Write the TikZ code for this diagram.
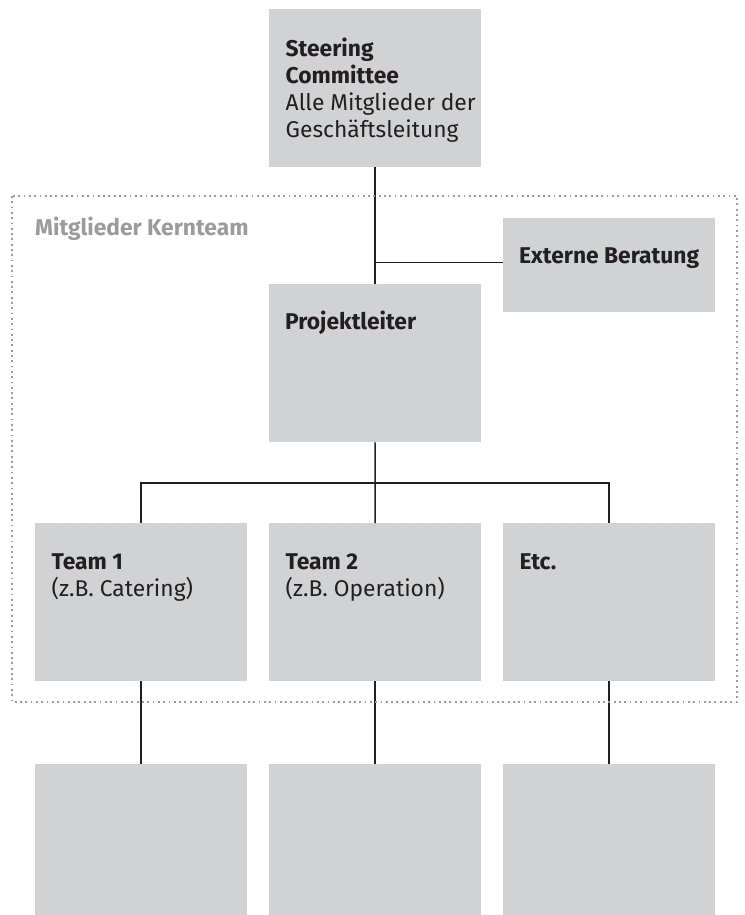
\documentclass[tikz,border=0pt]{standalone}
\usepackage{fontspec}
\setmainfont{Fira Sans}
\definecolor{boxgray}{HTML}{D1D2D4}
\definecolor{ink}{HTML}{231F20}
\definecolor{dotgray}{HTML}{9A9B9D}
\begin{document}
\begin{tikzpicture}[x=1pt,y=-1pt,
  box/.style={fill=boxgray, draw=none, inner sep=0pt, minimum width=212pt, anchor=north west},
  tallbox/.style={box, minimum height=158pt},
  lbl/.style={anchor=base west, inner sep=0pt, text=ink, font=\fontsize{22.8}{27}\selectfont},
  conn/.style={draw=ink, line width=1.5pt},
  frame/.style={draw=dotgray, line width=1.8pt, dash pattern=on 1.8pt off 3.5pt},
  grouplbl/.style={anchor=base west, inner sep=0pt, text=dotgray, font=\fontsize{22.8}{27}\selectfont\bfseries}]
\useasboundingbox (0,0) rectangle (744,915);
% boxes
\node[tallbox] (sc) at (269,9) {};
\node[box, minimum height=94pt] (ext) at (503,218) {};
\node[tallbox] (pl) at (269,284) {};
\node[tallbox] (t1) at (35,523) {};
\node[tallbox] (t2) at (269,523) {};
\node[tallbox] (t3) at (503,523) {};
\node[box, minimum height=151pt] (b1) at (35,764) {};
\node[box, minimum height=151pt] (b2) at (269,764) {};
\node[box, minimum height=151pt] (b3) at (503,764) {};
% labels
\newcommand{\boxlines}[1]{\vtop{\baselineskip=27pt #1}}
\node[lbl] (sctext) at ([shift={(16.5,47.5)}]sc.north west)
  {\boxlines{\hbox{\bfseries Steering}\hbox{\bfseries Committee}\hbox{Alle Mitglieder der}\hbox{Geschäftsleitung}}};
\node[lbl] (exttext) at ([shift={(16,45.5)}]ext.north west) {\bfseries Externe Beratung};
\node[lbl] (pltext) at ([shift={(16,45.5)}]pl.north west) {\bfseries Projektleiter};
\node[lbl] (t1text) at ([shift={(16.5,46)}]t1.north west)
  {\boxlines{\hbox{\bfseries Team 1}\hbox{(z.B. Catering)}}};
\node[lbl] (t2text) at ([shift={(16.5,46)}]t2.north west)
  {\boxlines{\hbox{\bfseries Team 2}\hbox{(z.B. Operation)}}};
\node[lbl] (t3text) at ([shift={(16.5,46)}]t3.north west) {\bfseries Etc.};
\node[grouplbl] (kern) at (35,235) {Mitglieder Kernteam};
% connectors
\coordinate (jext) at (375,262.7);
\coordinate (bus) at (375,483);
\draw[conn] (sc.south) -- (pl.north);
\draw[conn] (jext) -- (jext -| ext.west);
\draw[conn] (pl.south) -- (bus);
\draw[conn] (t1.north) |- (bus) -| (t3.north);
\draw[conn] (bus) -- (t2.north);
\draw[conn] (t1.south) -- (b1.north);
\draw[conn] (t2.south) -- (b2.north);
\draw[conn] (t3.south) -- (b3.north);
% dotted core-team frame
\draw[frame] (12,196) rectangle (737,702);
\end{tikzpicture}
\end{document}
